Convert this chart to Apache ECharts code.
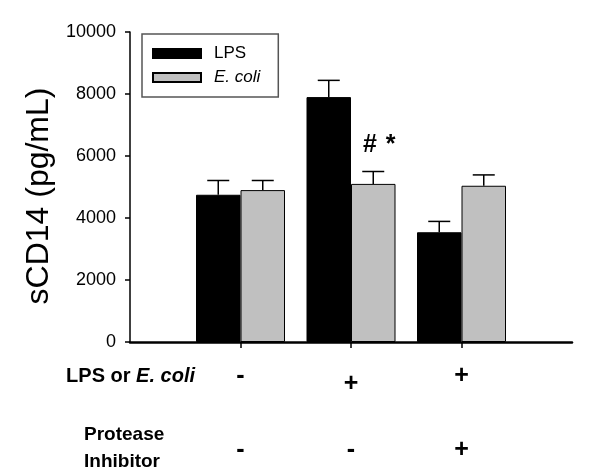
<!DOCTYPE html>
<html><head><meta charset="utf-8">
<script src="https://cdn.jsdelivr.net/npm/echarts@6/dist/echarts.min.js"></script>
<style>html,body{margin:0;padding:0;background:#fff}#c{width:600px;height:471px}</style>
</head><body><div id="c"></div>
<script>
// ---- data ----
const categories = ['start', 'Control', 'Stimulated', 'Stimulated + PI', 'end'];
const lpsMean   = [null, 4750, 7900, 3540, null];
const lpsSE     = [null, 460, 540, 350, null];
const ecoliMean = [null, 4900, 5100, 5040, null];
const ecoliSE   = [null, 310, 400, 350, null];
const rowLpsOrEcoli = ['', '-', '+', '+', ''];
const rowProtease   = ['', '-', '-', '+', ''];
const ecoliAnnotations = ['', '', '# *', '', ''];
const yMin = 0, yMax = 10000, yStep = 2000;

const FONT = '"Liberation Sans", Arial, sans-serif';
const BAR_W = 44.5;

function errData(mean, se) {
  const out = [];
  mean.forEach((v, i) => { if (v != null) out.push([i, v, se[i]]); });
  return out;
}
function errRender(offset, annos) {
  return function (params, api) {
    const i = api.value(0), v = api.value(1), e = api.value(2);
    const base = api.coord([i, v]);
    const top = api.coord([i, v + e]);
    const x = base[0] + offset;
    const children = [
      {type: 'line', shape: {x1: x, y1: base[1], x2: x, y2: top[1]}, style: {stroke: '#000', lineWidth: 1.5}},
      {type: 'line', shape: {x1: x - 11, y1: top[1], x2: x + 11, y2: top[1]}, style: {stroke: '#000', lineWidth: 1.5}}
    ];
    const a = annos && annos[i];
    if (a) {
      const parts = a.split(' ');
      children.push({type: 'text', style: {
        text: '{h|' + parts[0] + '}{s|' + parts[1] + '}', x: x + 6, y: top[1] - 26, align: 'center', verticalAlign: 'middle',
        rich: {
          h: {font: 'bold 25px ' + FONT, fill: '#000'},
          s: {font: 'bold 25px ' + FONT, fill: '#000', padding: [0, 0, 0, 9]}
        }}});
    }
    return {type: 'group', children};
  };
}

const chart = echarts.init(document.getElementById('c'), null, {renderer: 'canvas'});
chart.setOption({
  animation: false,
  backgroundColor: '#fff',
  grid: {left: 130, right: 28, top: 32, bottom: 129, containLabel: false},
  legend: {
    data: ['LPS', 'E. coli'],
    orient: 'vertical', left: 142, top: 34,
    padding: [11, 18, 11, 10],
    borderColor: '#555', borderWidth: 1.5,
    itemWidth: 48, itemHeight: 9, itemGap: 7,
    icon: 'rect',
    formatter: n => n === 'E. coli' ? '{i|E. coli}' : '{n|' + n + '}',
    textStyle: {
      color: '#000', fontSize: 17, fontFamily: FONT,
      rich: {
        n: {fontSize: 17, fontFamily: FONT, color: '#000', padding: [0, 0, 0, 8]},
        i: {fontSize: 17, fontFamily: FONT, fontStyle: 'italic', color: '#000', padding: [0, 0, 0, 8]}
      }
    }
  },
  xAxis: {
    type: 'category', data: categories, boundaryGap: false,
    axisLine: {lineStyle: {color: '#000', width: 2.5}},
    axisTick: {length: 6, lineStyle: {color: '#000', width: 1.5}, interval: (i) => i >= 1 && i <= 3, alignWithLabel: true},
    axisLabel: {
      interval: 0, margin: 10,
      formatter: (val, idx) => {
        if (!rowLpsOrEcoli[idx]) return '';
        const low = rowLpsOrEcoli[idx] === '+' && rowProtease[idx] === '-';
        return low ? '{a2|' + rowLpsOrEcoli[idx] + '}\n{b2|' + rowProtease[idx] + '}'
                   : '{a|' + rowLpsOrEcoli[idx] + '}\n{b|' + rowProtease[idx] + '}';
      },
      rich: {
        a:  {fontSize: 25, fontWeight: 'bold', fontFamily: FONT, color: '#000', lineHeight: 48},
        b:  {fontSize: 25, fontWeight: 'bold', fontFamily: FONT, color: '#000', lineHeight: 100},
        a2: {fontSize: 25, fontWeight: 'bold', fontFamily: FONT, color: '#000', lineHeight: 64},
        b2: {fontSize: 25, fontWeight: 'bold', fontFamily: FONT, color: '#000', lineHeight: 68}
      }
    },
    splitLine: {show: false}
  },
  yAxis: {
    type: 'value', min: yMin, max: yMax, interval: yStep,
    name: 'sCD14 (pg/mL)', nameLocation: 'middle', nameRotate: 90, nameGap: 66,
    nameTextStyle: {fontSize: 32, fontFamily: FONT, color: '#000', padding: [0, 18, 0, 0]},
    axisLine: {show: true, lineStyle: {color: '#000', width: 1.5}},
    axisTick: {show: true, length: 5, lineStyle: {color: '#000', width: 1.5}},
    axisLabel: {fontSize: 18, fontFamily: FONT, color: '#000', margin: 14, formatter: v => String(v)},
    splitLine: {show: false}
  },
  series: [
    {name: 'LPS', type: 'bar', data: lpsMean.map(v => v == null ? '-' : v), barWidth: BAR_W, barGap: '0%',
      itemStyle: {color: '#000', borderColor: '#000', borderWidth: 1}},
    {name: 'E. coli', type: 'bar', data: ecoliMean.map(v => v == null ? '-' : v), barWidth: BAR_W, barGap: '0%',
      itemStyle: {color: '#c0c0c0', borderColor: '#000', borderWidth: 1}},
    {name: 'LPS SE', type: 'custom', data: errData(lpsMean, lpsSE), renderItem: errRender(-BAR_W / 2, null), z: 3},
    {name: 'E. coli SE', type: 'custom', data: errData(ecoliMean, ecoliSE), renderItem: errRender(BAR_W / 2, ecoliAnnotations), z: 3}
  ],
  graphic: [
    {type: 'text', x: 195, y: 376, style: {
      text: '{b|LPS or }{bi|E. coli}', align: 'right', verticalAlign: 'middle',
      rich: {
        b:  {font: 'bold 20px ' + FONT, fill: '#000'},
        bi: {font: 'italic bold 20px ' + FONT, fill: '#000'}
      }}},
    {type: 'text', x: 84, y: 448, style: {
      text: 'Protease\nInhibitor', align: 'left', verticalAlign: 'middle',
      font: 'bold 19px ' + FONT, fill: '#000', lineHeight: 27}}
  ]
});
</script>
</body></html>
